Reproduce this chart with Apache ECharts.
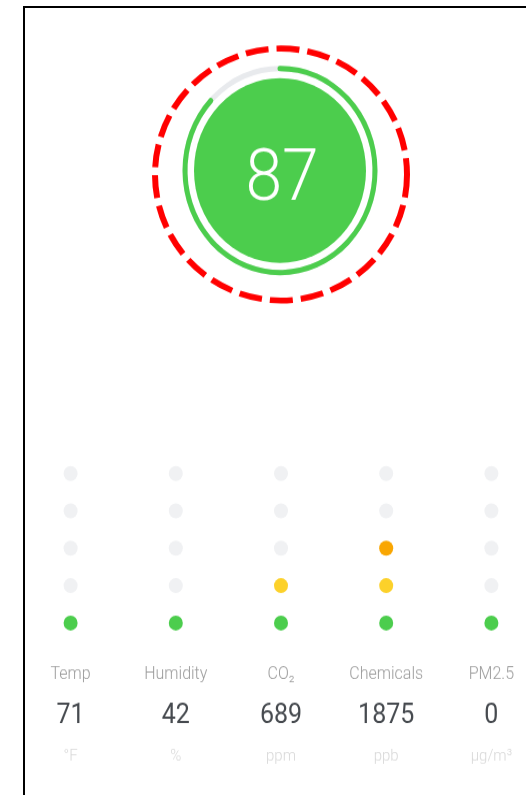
<!DOCTYPE html>
<html>
<head>
<meta charset="utf-8">
<title>Air quality score</title>
<script src="https://cdn.jsdelivr.net/npm/echarts@6/dist/echarts.min.js"></script>
<style>
    html, body { margin: 0; padding: 0; background: #fff; overflow: hidden; }
    body { width: 526px; height: 795px; position: relative; }
    /* frame of the original screenshot */
    #frame {
        position: absolute; left: 23px; top: 6px;
        width: 620px; height: 900px;
        border: 2px solid #000; box-sizing: border-box;
    }
    /* source picture was stretched a little vertically; the right column runs past the edge */
    #main {
        position: absolute; left: 0; top: 0;
        width: 560px; height: 740px;
        transform: scaleY(1.0743); transform-origin: 0 0;
    }
</style>
</head>
<body>
<div id="frame"></div>
<div id="main"></div>
<script>
// 数据
var score = 87;
var scoreMax = 100;
var categories = ['Temp', 'Humidity', 'CO₂', 'Chemicals', 'PM2.5'];
var readings = [71, 42, 689, 1875, 0];
var units = ['°F', '%', 'ppm', 'ppb', 'µg/m³'];
var levels = [1, 1, 2, 3, 1];          // lit dots per column
var levelColors = ['#4CCD4D', '#FCD12A', '#F9A602', '#F26B3A', '#E53935'];
var idleColor = '#F0F1F3';
var dotRows = 5;

var green = '#4CCD4D';
var fontFamily = 'Roboto, "Noto Sans", sans-serif';

function buildDots() {
    var out = [];
    for (var i = 0; i < categories.length; i++) {
        for (var r = 0; r < dotRows; r++) {
            out.push({
                value: [i, r],
                itemStyle: { color: r < levels[i] ? levelColors[r] : idleColor, opacity: 1 }
            });
        }
    }
    return out;
}

var div = document.getElementById('main');
var myChart = echarts.init(div, null, { renderer: 'canvas' });

var option = {
    animation: false,
    textStyle: { fontFamily: fontFamily },
    graphic: [
        {
            // red dashed marker round the score
            type: 'circle',
            x: 281, y: 162.4,
            scaleY: 1 / 1.0743,
            shape: { cx: 0, cy: 0, r: 126 },
            style: {
                fill: 'none',
                stroke: '#FF0000',
                lineWidth: 6,
                lineDash: [23, 8]
            },
            silent: true,
            z: 10
        }
    ],
    grid: {
        left: 18,
        width: 526,
        top: 423.3,
        height: 174,
        outerBoundsMode: 'none',
        containLabel: false
    },
    xAxis: {
        type: 'category',
        data: categories,
        boundaryGap: true,
        axisLine: { show: false },
        axisTick: { show: false },
        splitLine: { show: false },
        axisLabel: {
            interval: 0,
            margin: 12,
            formatter: function (name, idx) {
                return '{a|' + name + '}\n{b|' + readings[idx] + '}\n{c|' + units[idx] + '}';
            },
            rich: {
                a: { fontSize: 16, lineHeight: 38, color: '#9B9B9B', fontWeight: 300, fontFamily: fontFamily },
                b: { fontSize: 25, lineHeight: 38, color: '#464A4F', fontWeight: 'normal', fontFamily: fontFamily },
                c: { fontSize: 15, lineHeight: 38, color: '#D8D8D8', fontWeight: 300, fontFamily: fontFamily }
            }
        }
    },
    yAxis: {
        type: 'value',
        min: -0.5,
        max: dotRows - 0.5,
        show: false,
        splitLine: { show: false }
    },
    series: [
        {
            type: 'pie',
            z: 1,
            center: [280, 158.7],
            radius: [0, 86],
            silent: true,
            label: { show: false },
            labelLine: { show: false },
            itemStyle: { color: green },
            data: [{ value: score, name: 'score' }]
        },
        {
            type: 'gauge',
            z: 5,
            center: [280, 158.7],
            radius: 97.5,
            startAngle: 90,
            endAngle: -270,
            min: 0,
            max: scoreMax,
            pointer: { show: false },
            progress: {
                show: true,
                width: 5,
                roundCap: true,
                itemStyle: { color: green }
            },
            axisLine: {
                roundCap: true,
                lineStyle: { width: 5, color: [[1, '#E8EAED']] }
            },
            axisTick: { show: false },
            splitLine: { show: false },
            axisLabel: { show: false },
            title: { show: false },
            detail: {
                show: true,
                valueAnimation: false,
                offsetCenter: [2, 11],
                fontSize: 66,
                fontWeight: 300,
                fontFamily: fontFamily,
                color: '#FFFFFF',
                formatter: '{value}'
            },
            data: [{ value: score }]
        },
        {
            type: 'scatter',
            symbol: 'circle',
            symbolSize: 14,
            silent: true,
            data: buildDots()
        }
    ]
};

myChart.setOption(option);
window.addEventListener('resize', myChart.resize);
</script>
</body>
</html>
